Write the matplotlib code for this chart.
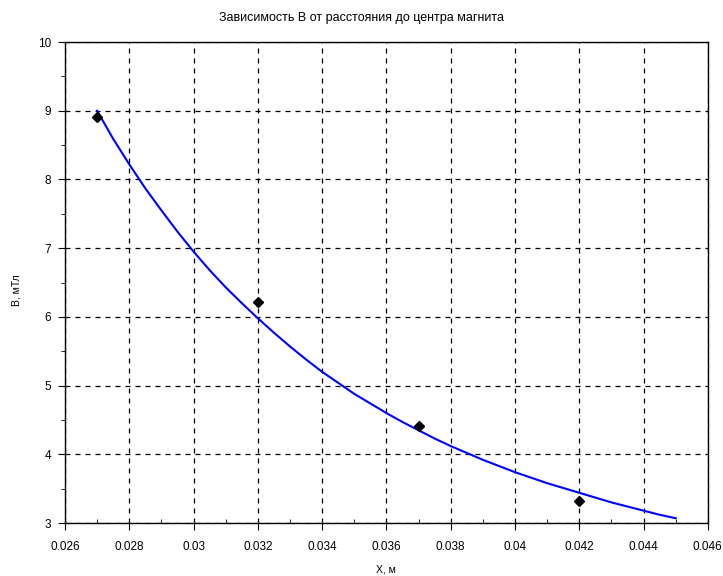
import matplotlib
matplotlib.use("Agg")
import matplotlib.pyplot as plt
from matplotlib.ticker import MultipleLocator, FuncFormatter


# measured field values
X_MEAS = [0.027, 0.032, 0.037, 0.042]
B_MEAS = [8.91, 6.22, 4.41, 3.32]

# fitted curve, sampled every 0.5 mm
X_FIT = [0.0270, 0.0275, 0.0280, 0.0285, 0.0290, 0.0295, 0.0300, 0.0305,
         0.0310, 0.0315, 0.0320, 0.0325, 0.0330, 0.0335, 0.0340, 0.0345,
         0.0350, 0.0355, 0.0360, 0.0365, 0.0370, 0.0375, 0.0380, 0.0385,
         0.0390, 0.0395, 0.0400, 0.0405, 0.0410, 0.0415, 0.0420, 0.0425,
         0.0430, 0.0435, 0.0440, 0.0445, 0.0450]
B_FIT = [9.00, 8.59, 8.22, 7.87, 7.55, 7.24, 6.95, 6.68,
         6.43, 6.20, 5.98, 5.77, 5.57, 5.38, 5.20, 5.04,
         4.88, 4.74, 4.60, 4.47, 4.35, 4.23, 4.12, 4.02,
         3.92, 3.83, 3.74, 3.66, 3.58, 3.51, 3.44, 3.37,
         3.30, 3.24, 3.18, 3.12, 3.07]

TITLE = "Зависимость B от расстояния до центра магнита"
XLABEL = "X, м"
YLABEL = "B, мТл"

plt.rcParams["font.family"] = ["Liberation Sans", "DejaVu Sans"]

fig = plt.figure(figsize=(7.23, 5.76), dpi=100)
ax = fig.add_axes([0.0899, 0.092, 0.8891, 0.835])

ax.plot(X_FIT, B_FIT, color="#0000ff", lw=1.5, zorder=3)
ax.plot(X_MEAS, B_MEAS, linestyle="none", marker="D", ms=5.5, color="black", zorder=4)

ax.set_xlim(0.026, 0.046)
ax.set_ylim(3, 10)
ax.xaxis.set_major_locator(MultipleLocator(0.002))
ax.xaxis.set_minor_locator(MultipleLocator(0.001))
ax.yaxis.set_major_locator(MultipleLocator(1))
ax.yaxis.set_minor_locator(MultipleLocator(0.5))
ax.xaxis.set_major_formatter(FuncFormatter(lambda v, p: f"{v:.3f}".rstrip("0").rstrip(".")))

ax.grid(True, which="major", color="black", linestyle=(0, (4, 4)), lw=0.9)
ax.tick_params(which="major", direction="out", length=5, labelsize=8.5, colors="black")
ax.tick_params(which="major", axis="x", pad=8)
ax.tick_params(which="major", axis="y", pad=5)
ax.tick_params(which="minor", axis="x", direction="in", length=3)
ax.tick_params(which="minor", axis="y", direction="out", length=3)
for s in ax.spines.values():
    s.set_color("black")
    s.set_linewidth(1.0)

# title is centred on the whole figure, not on the axes
fig.suptitle(TITLE, x=0.5, y=0.969, va="center", fontsize=9)
ax.set_xlabel(XLABEL, fontsize=7.5, labelpad=8)
ax.set_ylabel(YLABEL, fontsize=7.5)
ax.yaxis.set_label_coords(-0.067, 0.484)

fig.savefig("out.png", dpi=100)
plt.close(fig)
